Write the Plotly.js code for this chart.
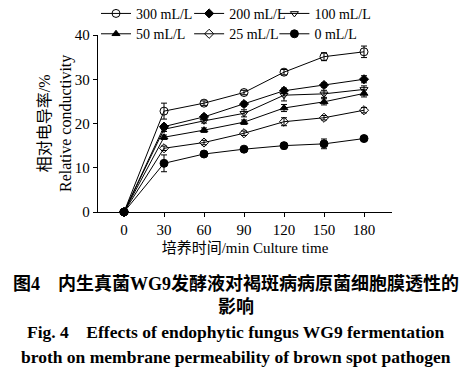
<!DOCTYPE html>
<html>
<head>
<meta charset="utf-8">
<script src="https://cdn.plot.ly/plotly-3.0.1.min.js"></script>
<style>html,body{margin:0;padding:0;background:#fff;}#chart{width:471px;height:375px;}</style>
</head>
<body>
<div id="chart"></div>
<script>
const times = [0, 30, 60, 90, 120, 150, 180];
const seriesNames = ["300 mL/L", "200 mL/L", "100 mL/L", "50 mL/L", "25 mL/L", "0 mL/L"];
const v300 = [0, 22.8, 24.6, 27.0, 31.6, 35.1, 36.2];
const v200 = [0, 19.3, 21.5, 24.4, 27.4, 28.7, 30.0];
const v100 = [0, 18.7, 20.6, 22.3, 26.4, 26.7, 27.7];
const v50  = [0, 16.9, 18.5, 20.3, 23.5, 24.9, 26.8];
const v25  = [0, 14.4, 15.7, 17.8, 20.4, 21.3, 23.0];
const v0   = [0, 11.0, 13.1, 14.2, 15.0, 15.4, 16.6];
const e300 = [0, 1.8, 0.5, 0.5, 0.6, 0.9, 1.3];
const e200 = [0, 0.5, 0.5, 0.5, 0.6, 0.5, 0.8];
const e100 = [0, 0.5, 0.5, 0.8, 1.3, 0.8, 0.8];
const e50  = [0, 0.5, 0.5, 0.5, 0.8, 0.7, 0.8];
const e25  = [0, 0.5, 0.5, 0.5, 0.9, 0.5, 0.6];
const e0   = [0, 1.9, 0.4, 0.4, 0.7, 1.1, 0.5];

const values = [v300, v200, v100, v50, v25, v0];
const errors = [e300, e200, e100, e50, e25, e0];
const symbols = ["circle-open", "diamond", "triangle-down-open", "triangle-up", "diamond-open", "circle"];
const sizes = [8, 7, 7, 7, 7, 8];
const legendIds = ["legend", "legend2", "legend3", "legend4", "legend5", "legend6"];

const FONT = "Liberation Serif, Times New Roman, Noto Sans CJK SC, serif";

const traces = values.map((v, i) => ({
  x: times, y: v, name: seriesNames[i], type: "scatter", mode: "lines+markers",
  line: {color: "#000", width: 1},
  marker: {symbol: symbols[i], size: sizes[i], color: "#000", line: {color: "#000", width: 1}},
  error_y: {type: "data", array: errors[i], visible: true, color: "#000", thickness: 1, width: 3},
  cliponaxis: false,
  legend: legendIds[i]
}));

const capX = (235.5 - 98) / 294;
const row1Y = 1.21, row2Y = 1.095;
const colX = [-0.0068, 0.31, 0.60];
const legBase = {orientation: "v", xanchor: "left", yanchor: "top",
  bgcolor: "rgba(0,0,0,0)", font: {family: FONT, size: 14}, itemwidth: 30, borderwidth: 0};
const layout = {
  width: 471, height: 375,
  margin: {l: 98, r: 79, t: 35, b: 163, autoexpand: false},
  paper_bgcolor: "#fff", plot_bgcolor: "#fff",
  font: {family: FONT, size: 15, color: "#000"},
  showlegend: true,
  xaxis: {
    range: [-19.5, 201], tickvals: [0, 30, 60, 90, 120, 150, 180],
    showline: true, linecolor: "#000", linewidth: 1.2, zeroline: false, showgrid: false,
    ticks: "outside", ticklen: 4, tickcolor: "#000",
    tickfont: {family: FONT, size: 15},
    title: {text: "培养时间/min Culture time", font: {family: FONT, size: 15}, standoff: 5}
  },
  yaxis: {
    range: [0, 40], tickvals: [0, 10, 20, 30, 40],
    showline: true, linecolor: "#000", linewidth: 1.2, zeroline: false, showgrid: false,
    ticks: "outside", ticklen: 4, tickcolor: "#000",
    tickfont: {family: FONT, size: 15}
  },
  annotations: [
    {text: "相对电导率/%<br>Relative conductivity", xref: "paper", yref: "paper",
     x: (56 - 98) / 294, y: (212 - 124) / 177, xanchor: "center", yanchor: "middle", showarrow: false,
     textangle: -90, font: {family: FONT, size: 16}},
    {text: "<b>图4　内生真菌WG9发酵液对褐斑病病原菌细胞膜透性的</b>", xref: "paper", yref: "paper",
     x: capX, y: (212 - 283) / 177, xanchor: "center", yanchor: "middle", showarrow: false,
     font: {family: FONT, size: 18}},
    {text: "<b>影响</b>", xref: "paper", yref: "paper",
     x: capX, y: (212 - 307) / 177, xanchor: "center", yanchor: "middle", showarrow: false,
     font: {family: FONT, size: 18}},
    {text: "<b>Fig. 4　Effects of endophytic fungus WG9 fermentation</b>", xref: "paper", yref: "paper",
     x: capX, y: (212 - 332) / 177, xanchor: "center", yanchor: "middle", showarrow: false,
     font: {family: FONT, size: 17.5}},
    {text: "<b>broth on membrane permeability of brown spot pathogen</b>", xref: "paper", yref: "paper",
     x: capX, y: (212 - 357) / 177, xanchor: "center", yanchor: "middle", showarrow: false,
     font: {family: FONT, size: 17.5}}
  ]
};
legendIds.forEach((id, i) => {
  layout[id] = Object.assign({}, legBase, {x: colX[i % 3], y: i < 3 ? row1Y : row2Y});
});

Plotly.newPlot("chart", traces, layout, {displayModeBar: false, staticPlot: true});
</script>
</body>
</html>
